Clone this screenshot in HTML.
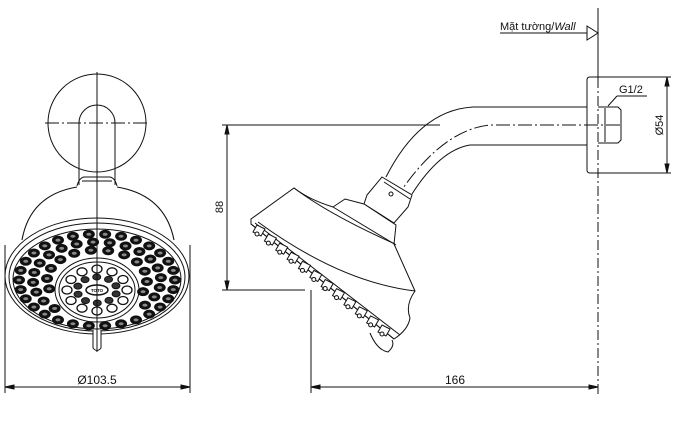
<!DOCTYPE html>
<html><head><meta charset="utf-8"><style>
html,body{margin:0;padding:0;background:#fff;}
svg{display:block;font-family:"Liberation Sans","Noto Sans CJK SC",sans-serif;}
</style></head><body>
<svg id="s" width="674" height="430" viewBox="0 0 674 430" fill="none" stroke="#111" stroke-width="1">
<circle cx="97" cy="123" r="49"/>
<line x1="45" y1="123" x2="150" y2="123" stroke-dasharray="14,3,2,3"/>
<path d="M79,185 L79,123 A18,18 0 0 1 115,123 L115,185"/>
<path d="M77,186 Q79,178 84,177 L110,177 Q115,178 117,186"/>
<line x1="82" y1="181" x2="112" y2="181"/>
<path d="M77,187 Q30,195 22,240 M117,187 Q165,195 174,240" stroke-width="1.1"/>
<ellipse cx="97" cy="276" rx="92" ry="58"/>
<ellipse cx="97" cy="277" rx="88" ry="54"/>
<ellipse cx="97" cy="279" rx="84" ry="50"/>
<ellipse cx="97" cy="290" rx="42" ry="32"/>
<ellipse cx="97" cy="290" rx="38" ry="28"/>
<g id="holes"></g>
<ellipse cx="97" cy="290" rx="11" ry="5" fill="#fff" stroke-width="1.5"/>
<text x="97" y="292" font-size="4.5" text-anchor="middle" fill="#111" stroke="none" font-weight="bold">TOTO</text>
<path d="M93,330 L93,348 Q97,353 101,348 L101,330" fill="#fff"/>
<line x1="97" y1="72" x2="97" y2="352"/>
<line x1="5" y1="245" x2="5" y2="393"/>
<line x1="190" y1="245" x2="190" y2="393"/>
<line x1="5" y1="387" x2="190" y2="387"/>
<path d="M5,387 l9,-2 v4z M190,387 l-9,-2 v4z" fill="#111"/>
<text x="97" y="384" font-size="12" text-anchor="middle" fill="#111" stroke="none">Ø103.5</text>

<line x1="598" y1="8" x2="598" y2="78"/>
<line x1="598" y1="78" x2="598" y2="395" stroke-dasharray="10,3,2,3"/>
<text x="500" y="30" font-size="11" fill="#111" stroke="none">Mặt tường/<tspan font-style="italic">Wall</tspan></text>
<line x1="500" y1="33" x2="587" y2="33"/>
<path d="M587,26 L598,33 L587,40 Z" fill="#fff"/>
<path d="M598,77 L590,77 Q587,77 587,80 L587,170 Q587,173 590,173 L598,173"/>
<path d="M598,107 L618,107 L621,110 L621,140 L618,143 L598,143"/>
<line x1="605" y1="108" x2="605" y2="142"/>
<line x1="608" y1="106" x2="617" y2="96"/>
<line x1="617" y1="96" x2="647" y2="96"/>
<text x="619" y="93" font-size="11" fill="#111" stroke="none">G1/2</text>
<line x1="598" y1="77" x2="671" y2="77"/>
<line x1="598" y1="173" x2="671" y2="173"/>
<line x1="667" y1="77" x2="667" y2="173"/>
<path d="M667,77 l-2,9 h4z M667,173 l-2,-9 h4z" fill="#111"/>
<text transform="translate(663,125) rotate(-90)" font-size="11" text-anchor="middle" fill="#111" stroke="none">Ø54</text>
<path d="M587,107 L473,107 Q420,110 386,177"/>
<path d="M587,145 L470,145 Q440,150 412,194"/>
<path d="M620,125 L490,125 Q440,130 395,200 L320,292" stroke-dasharray="14,3,2,3"/>
<path d="M382,177 L412,195 L408,207 L394,223 L364,204 L367,195 Z" fill="#fff"/>
<line x1="384" y1="182" x2="410" y2="199"/>
<circle cx="391" cy="194" r="2"/>
<path d="M364,204 L345,199 L333,207 Q310,200 294,188 L251,219 L251,224 L394,339 Q408,330 410,318 Q405,305 415,291 L394,244 L396,225 Z" fill="#fff"/>
<path d="M251,224 L394,339"/>
<path d="M255,223 L400,335"/>
<path d="M333,207 L396,245"/>
<path d="M294,188 Q330,215 395,244"/>
<path d="M258,222 Q340,282 415,291"/>
<g id="snoz"></g>
<path d="M370,333 Q377,350 388,352 Q395,346 392,340" fill="#fff"/>
<line x1="222" y1="125" x2="440" y2="125"/>
<line x1="222" y1="290" x2="305" y2="290"/>
<line x1="227" y1="125" x2="227" y2="290"/>
<path d="M227,125 l-2,9 h4z M227,290 l-2,-9 h4z" fill="#111"/>
<text transform="translate(223,207) rotate(-90)" font-size="11" text-anchor="middle" fill="#111" stroke="none">88</text>
<line x1="311" y1="290" x2="311" y2="393"/>
<line x1="311" y1="387" x2="598" y2="387"/>
<path d="M311,387 l9,-2 v4z M598,387 l-9,-2 v4z" fill="#111"/>
<text x="455" y="384" font-size="12" text-anchor="middle" fill="#111" stroke="none">166</text>
</svg>
<script>
var NS="http://www.w3.org/2000/svg",g=document.getElementById("holes");
function el(t,a,p){var e=document.createElementNS(NS,t);for(var k in a)e.setAttribute(k,a[k]);p.appendChild(e);}
var rings=[[78,46,30],[64,38,24],[50,30,18]];
rings.forEach(function(r,i){var n=r[2];for(var j=0;j<n;j++){var a=j/n*2*Math.PI+i*0.2;var x=97+r[0]*Math.cos(a),y=280+r[1]*Math.sin(a);
if(((x-97)*(x-97)/2100+(y-290)*(y-290)/1250)<1)continue;
el("ellipse",{cx:x,cy:y,rx:5.5,ry:4,fill:"#111"},g);el("ellipse",{cx:x,cy:y,rx:2.5,ry:1.5,fill:"#888",stroke:"none"},g);}});
for(var j=0;j<12;j++){var a=j/12*2*Math.PI;var x=97+30*Math.cos(a),y=290+21*Math.sin(a);
el("ellipse",{cx:x,cy:y,rx:5,ry:4,fill:"#fff","stroke-width":1.3},g);}
for(var j=0;j<10;j++){var a=j/10*2*Math.PI+0.3;var x=97+20*Math.cos(a),y=290+13*Math.sin(a);
el("ellipse",{cx:x,cy:y,rx:4,ry:3,fill:"#333"},g);}
var s=document.getElementById("snoz");
for(var k=0;k<12;k++){var t=k/11;var x=258+t*125,y=230+t*100;
el("path",{d:"M"+(x-5)+","+(y+2)+" l4,-7 l8,4 l-4,7 z",fill:"#fff"},s);
el("circle",{cx:x-1,cy:y+4,r:2,fill:"#fff"},s);}
</script>
</body></html>
